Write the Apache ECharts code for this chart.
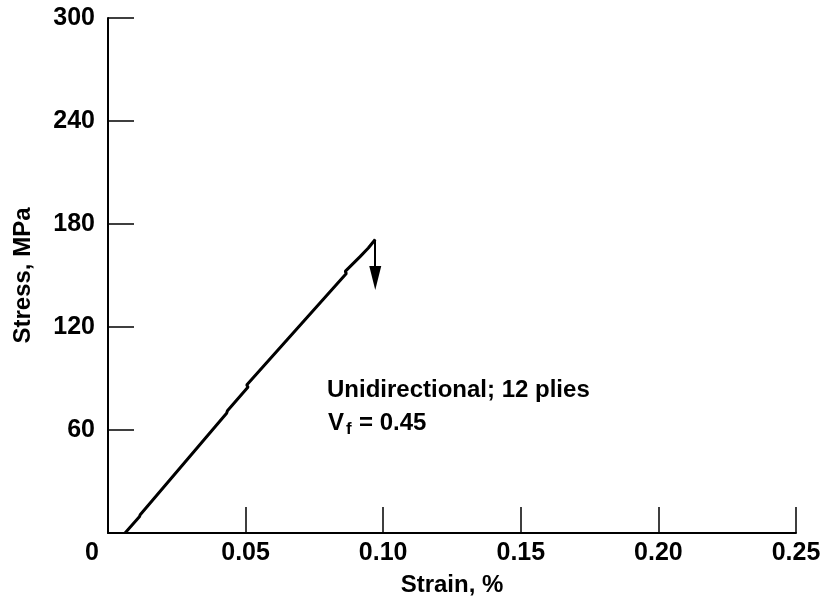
<!DOCTYPE html>
<html>
<head>
<meta charset="utf-8">
<script src="https://cdn.jsdelivr.net/npm/echarts@6/dist/echarts.min.js"></script>
<style>
html,body{margin:0;padding:0;background:#fff;}
#chart{width:829px;height:605px;}
</style>
</head>
<body>
<div id="chart"></div>
<script>
// Data
const strain = [0.0062, 0.0114, 0.0111, 0.0117, 0.0431, 0.0429, 0.0434, 0.0509, 0.0504, 0.0511, 0.0866, 0.0862, 0.0869, 0.0916, 0.0946, 0.0971];
const stress = [0, 9.4, 10.2, 10.6, 69.8, 70.8, 71.2, 85.0, 86.2, 87.2, 151.2, 152.4, 153.0, 161.0, 166.0, 171.0];
const failureArrowStrain = 0.0971;
const failureArrowFrom = 171.0;
const failureArrowTo = 148.5;
const xTicks = [0, 0.05, 0.10, 0.15, 0.20, 0.25];
const yTicks = [0, 60, 120, 180, 240, 300];
const annotationLine1 = 'Unidirectional; 12 plies';
const annotationV = 'V';
const annotationSub = 'f';
const annotationRest = '= 0.45';

const FONT = '"Liberation Sans", Arial, Helvetica, sans-serif';
const curve = strain.map((s, i) => [s, stress[i]]);

const chart = echarts.init(document.getElementById('chart'), null, {renderer: 'canvas'});
chart.setOption({
  animation: false,
  backgroundColor: '#fff',
  grid: {left: 108, right: 33, top: 18, bottom: 72, containLabel: false},
  xAxis: {
    type: 'value',
    min: xTicks[0], max: xTicks[xTicks.length - 1], interval: 0.05,
    name: 'Strain, %', nameLocation: 'middle', nameGap: 40,
    nameTextStyle: {fontFamily: FONT, fontWeight: 'bold', fontSize: 24, color: '#000'},
    axisLine: {show: true, lineStyle: {color: '#000', width: 2}},
    axisTick: {show: true, inside: true, length: 26, lineStyle: {color: '#000', width: 1.5}},
    splitLine: {show: false},
    axisLabel: {
      margin: 8, color: '#000', fontFamily: FONT, fontWeight: 'bold', fontSize: 25,
      formatter: v => Math.abs(v) < 1e-9 ? '{z|0}' : v.toFixed(2),
      rich: {z: {fontFamily: FONT, fontWeight: 'bold', fontSize: 25, color: '#000', padding: [0, 32, 0, 0]}}
    }
  },
  yAxis: {
    type: 'value',
    min: yTicks[0], max: yTicks[yTicks.length - 1], interval: 60,
    name: 'Stress, MPa', nameLocation: 'middle', nameGap: 73,
    nameTextStyle: {fontFamily: FONT, fontWeight: 'bold', fontSize: 24, color: '#000'},
    axisLine: {show: true, lineStyle: {color: '#000', width: 2}},
    axisTick: {show: true, inside: true, length: 26, lineStyle: {color: '#000', width: 1.5}},
    splitLine: {show: false},
    axisLabel: {
      margin: 13, color: '#000', fontFamily: FONT, fontWeight: 'bold', fontSize: 25,
      formatter: v => v === 0 ? '' : String(v)
    }
  },
  series: [{
    type: 'line',
    data: curve,
    showSymbol: false,
    symbol: 'none',
    lineStyle: {color: '#000', width: 3},
    markLine: {
      silent: true,
      symbol: ['none', 'triangle'],
      symbolSize: [12, 24],
      label: {show: false},
      lineStyle: {color: '#000', width: 2, type: 'solid'},
      data: [[{coord: [failureArrowStrain, failureArrowFrom]}, {coord: [failureArrowStrain, failureArrowTo]}]]
    }
  }],
  graphic: [
    {type: 'text', left: 327, top: 378, style: {text: annotationLine1, font: 'bold 24px ' + FONT, fill: '#000'}},
    {type: 'text', left: 328, top: 411, style: {text: annotationV, font: 'bold 24px ' + FONT, fill: '#000'}},
    {type: 'text', left: 346, top: 421, style: {text: annotationSub, font: 'bold 17px ' + FONT, fill: '#000'}},
    {type: 'text', left: 359, top: 411, style: {text: annotationRest, font: 'bold 24px ' + FONT, fill: '#000'}}
  ]
});
</script>
</body>
</html>
